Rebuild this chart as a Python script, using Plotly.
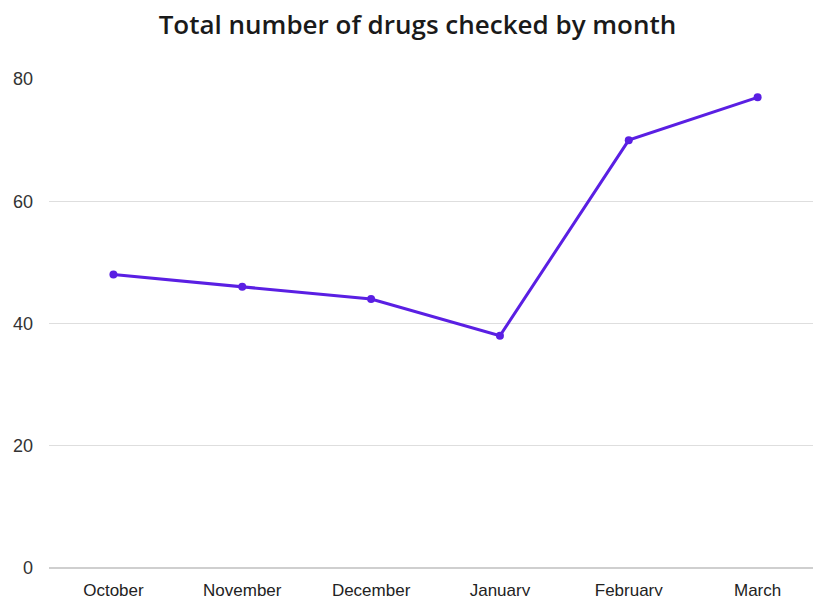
import plotly.graph_objects as go

months = ["October", "November", "December", "January", "February", "March"]
drugs_checked = [48, 46, 44, 38, 70, 77]
y_ticks = [0, 20, 40, 60, 80]

fig = go.Figure(
    go.Scatter(
        x=months,
        y=drugs_checked,
        mode="lines+markers",
        line=dict(color="#5a1fe3", width=3),
        marker=dict(color="#5a1fe3", size=8),
        hoverinfo="x+y",
    )
)

fig.update_layout(
    width=813,
    height=596,
    margin=dict(l=49, r=0, t=79, b=28),
    paper_bgcolor="white",
    plot_bgcolor="white",
    showlegend=False,
    title=dict(
        text="Total number of drugs checked by month",
        x=0.5135,
        xanchor="center",
        y=0.958,
        yanchor="middle",
        font=dict(family="Open Sans", size=26, color="#1a1a1a", weight=600),
    ),
)

fig.update_xaxes(
    range=[-0.5, 5.43],
    automargin=False,
    showgrid=False,
    showline=False,
    zeroline=False,
    ticks="",
    ticklabelstandoff=10,
    tickfont=dict(family="Liberation Sans", size=17, color="#222222"),
)

fig.update_yaxes(
    range=[0, 80],
    automargin=False,
    tickvals=y_ticks,
    showgrid=True,
    gridcolor="#dedede",
    gridwidth=1,
    zeroline=True,
    zerolinecolor="#cfcfcf",
    zerolinewidth=2,
    showline=False,
    ticks="",
    ticklabelstandoff=15,
    tickfont=dict(family="Liberation Sans", size=18, color="#333333"),
)

fig.write_html("out.html")
